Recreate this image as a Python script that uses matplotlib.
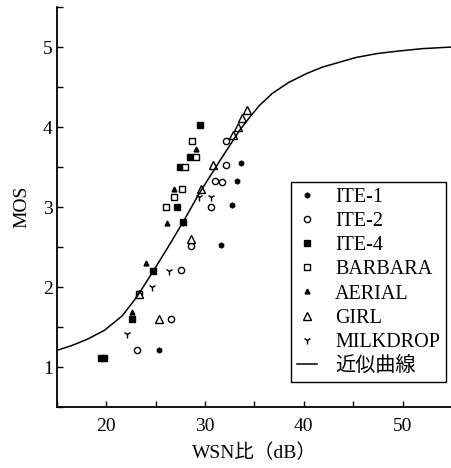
import numpy as np
import matplotlib
matplotlib.use('Agg')
import matplotlib.pyplot as plt
from matplotlib.ticker import MultipleLocator

plt.rcParams['font.family'] = ['Liberation Serif', 'Noto Sans CJK JP']

# MOS vs WSN ratio

ite1_x = [25.3, 31.6, 32.7, 33.2, 33.6]
ite1_y = [1.22, 2.53, 3.02, 3.33, 3.55]

ite2_x = [23.1, 26.5, 27.6, 28.6, 30.6, 31.0, 31.7, 32.1, 32.1]
ite2_y = [1.22, 1.60, 2.22, 2.52, 3.00, 3.33, 3.31, 3.52, 3.82]

ite4_x = [19.5, 19.8, 22.6, 24.7, 27.8, 27.2, 27.5, 28.5, 29.5]
ite4_y = [1.12, 1.12, 1.60, 2.20, 2.81, 3.00, 3.50, 3.62, 4.02]

barbara_x = [23.3, 26.0, 26.9, 27.7, 28.0, 29.1, 28.7]
barbara_y = [1.92, 3.00, 3.12, 3.22, 3.50, 3.62, 3.82]

aerial_x = [22.6, 24.0, 26.1, 26.9, 29.1]
aerial_y = [1.69, 2.30, 2.80, 3.22, 3.72]

girl_x = [23.3, 25.3, 28.6, 29.6, 30.8, 32.8, 33.3, 33.7, 34.2]
girl_y = [1.92, 1.60, 2.60, 3.22, 3.53, 3.90, 4.00, 4.11, 4.21]

milk_x = [22.1, 24.6, 26.3, 27.8, 29.4, 30.6]
milk_y = [1.42, 2.00, 2.20, 2.81, 3.12, 3.12]

# fitted curve
curve_x = [15, 16.5, 18.1, 19.8, 21.6, 23.1, 24.6, 26.2, 27.8, 29.4, 31.5,
           33.5, 34.5, 35.5, 36.8, 38.5, 40.3, 41.9, 43.6, 45.3, 47.5,
           49.6, 52, 55]
curve_y = [1.21, 1.27, 1.35, 1.46, 1.64, 1.88, 2.17, 2.49, 2.82, 3.17, 3.58,
           3.96, 4.12, 4.27, 4.42, 4.56, 4.67, 4.75, 4.81, 4.87, 4.92,
           4.95, 4.98, 5.0]

fig = plt.figure(figsize=(4.52, 4.68), dpi=100)
ax = fig.add_axes([0.126, 0.130, 0.874, 0.855])

k = dict(linestyle='none', color='black', markeredgewidth=1.0)
ax.plot(ite1_x, ite1_y, marker='h', markersize=3.5, label='ITE-1', **k)
ax.plot(ite2_x, ite2_y, marker='o', markersize=4.5, markerfacecolor='white',
        label='ITE-2', **k)
ax.plot(ite4_x, ite4_y, marker='s', markersize=5, label='ITE-4', **k)
ax.plot(barbara_x, barbara_y, marker='s', markersize=5,
        markerfacecolor='white', label='BARBARA', **k)
ax.plot(aerial_x, aerial_y, marker='^', markersize=3.5, label='AERIAL', **k)
ax.plot(girl_x, girl_y, marker='^', markersize=5.5, markerfacecolor='white',
        label='GIRL', **k)
ax.plot(milk_x, milk_y, marker='1', markersize=6, label='MILKDROP', **k)
ax.plot(curve_x, curve_y, color='black', linewidth=1.1,
        solid_joinstyle='round', label='近似曲線')

ax.set_xlim(15, 55)
ax.set_ylim(0.5, 5.5)
ax.xaxis.set_minor_locator(MultipleLocator(5))
ax.yaxis.set_minor_locator(MultipleLocator(0.5))
ax.set_xticks([20, 30, 40, 50])
ax.set_yticks([1, 2, 3, 4, 5])

for s in ['top', 'right']:
    ax.spines[s].set_visible(False)
for s in ['left', 'bottom']:
    ax.spines[s].set_linewidth(1.3)

ax.tick_params(which='both', direction='in', width=1, length=4, labelsize=14)
ax.tick_params(axis='x', pad=8)
ax.tick_params(axis='y', pad=3)

ax.set_xlabel('WSN比（dB）', fontsize=14, labelpad=6)
ax.set_ylabel('MOS', fontsize=14, labelpad=9)

leg = ax.legend(loc='lower right', bbox_to_anchor=(0.985, 0.0625),
                borderaxespad=0, fontsize=14.5, numpoints=1,
                handlelength=1.0, labelspacing=0.25, handletextpad=0.9,
                borderpad=0.3, fancybox=False, frameon=True, framealpha=1)
leg.get_frame().set_edgecolor('black')
leg.get_frame().set_linewidth(1.0)

fig.savefig('out.png', dpi=100)
